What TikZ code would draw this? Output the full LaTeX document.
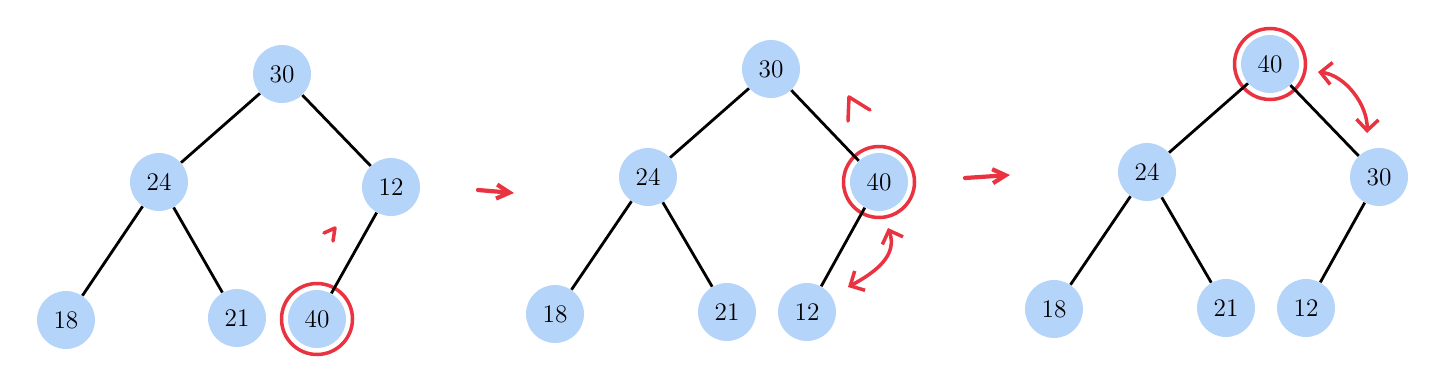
\documentclass[tikz,border=0pt]{standalone}
\usetikzlibrary{arrows.meta}
\definecolor{nodeblue}{RGB}{181,212,250}
\definecolor{markred}{RGB}{234,51,64}
\begin{document}
\begin{tikzpicture}[x=0.02cm,y=-0.02cm,
  key/.style={circle,fill=nodeblue,minimum size=1.16cm,inner sep=0pt,font=\Large},
  link/.style={line width=1.6pt,black},
  ring/.style={line width=2pt,markred},
  redmark/.style={line width=2pt,markred,line cap=round,line join=round},
  goarrow/.style={redmark,line width=2.4pt,-{Straight Barb[length=2.6mm,width=2.8mm]}},
  swaparrow/.style={redmark,{Straight Barb[length=2.2mm,width=4.4mm]}-{Straight Barb[length=2.2mm,width=4.4mm]}}]
\useasboundingbox (0,0) rectangle (1440,379);
% first tree: 40 appended as last leaf
\node[key] (a30) at (282,74) {30};
\node[key] (a24) at (159,182) {24};
\node[key] (a12) at (391,187) {12};
\node[key] (a18) at (66,320) {18};
\node[key] (a21) at (237,318) {21};
\node[key] (a40) at (317,319) {40};
\draw[ring] (a40) circle (0.71cm);
\foreach \u/\v in {a30/a24,a30/a12,a24/a18,a24/a21,a12/a40}
  \draw[link] (\u) -- (\v);
\draw[redmark] (324,233) -- (335,228) -- (333,241);
% second tree: 40 swapped with 12
\node[key] (b30) at (771,69) {30};
\node[key] (b24) at (648,177) {24};
\node[key] (b40) at (879,182) {40};
\node[key] (b18) at (555,314) {18};
\node[key] (b21) at (727,312) {21};
\node[key] (b12) at (807,312) {12};
\draw[ring] (b40) circle (0.71cm);
\foreach \u/\v in {b30/b24,b30/b40,b24/b18,b24/b21,b40/b12}
  \draw[link] (\u) -- (\v);
\draw[redmark] (848,121) -- (849,97) -- (870,110);
\coordinate (bswapA) at (888,228);
\coordinate (bswapB) at (848,287);
\draw[swaparrow] (bswapA) .. controls (898,255) and (876,272) .. (bswapB);
% third tree: 40 swapped with 30
\node[key] (c40) at (1270,64) {40};
\node[key] (c24) at (1147,172) {24};
\node[key] (c30) at (1379,177) {30};
\node[key] (c18) at (1054,309) {18};
\node[key] (c21) at (1226,308) {21};
\node[key] (c12) at (1306,308) {12};
\draw[ring] (c40) circle (0.71cm);
\foreach \u/\v in {c40/c24,c40/c30,c24/c18,c24/c21,c30/c12}
  \draw[link] (\u) -- (\v);
\coordinate (cswapA) at (1318,72);
\coordinate (cswapB) at (1367,133);
\draw[swaparrow] (cswapA) .. controls (1345,75) and (1368,105) .. (cswapB);
% steps between the trees
\coordinate (go1s) at (478,190);
\coordinate (go1e) at (514,193);
\coordinate (go2s) at (965,178);
\coordinate (go2e) at (1010,175);
\draw[goarrow] (go1s) -- (go1e);
\draw[goarrow] (go2s) -- (go2e);
\end{tikzpicture}
\end{document}
